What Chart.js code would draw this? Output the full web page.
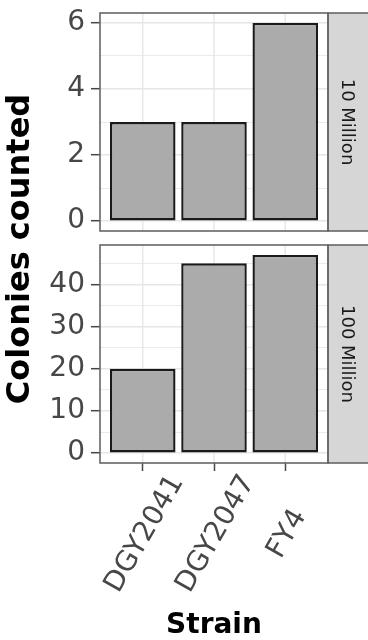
<!DOCTYPE html>
<html>
<head>
<meta charset="utf-8">
<script src="https://cdn.jsdelivr.net/npm/chart.js@4.4.1/dist/chart.umd.min.js"></script>
<style>
  html, body { margin: 0; padding: 0; background: #ffffff; }
  canvas { display: block; }
</style>
</head>
<body>
<canvas id="chart" width="368" height="640"></canvas>
<script>
// Colonies counted per strain, faceted by cell number plated
const strains = ['DGY2041', 'DGY2047', 'FY4'];
const panels = ['10 Million', '100 Million'];
const colonies10M = [3, 3, 6];
const colonies100M = [20, 45, 47];
const majorTicks10M = [0, 2, 4, 6];
const minorTicks10M = [1, 3, 5];
const majorTicks100M = [0, 10, 20, 30, 40];
const minorTicks100M = [5, 15, 25, 35, 45];
const xTitle = 'Strain';
const yTitle = 'Colonies counted';

const FONT = "'DejaVu Sans', 'Liberation Sans', sans-serif";
const TEXT_GREY = '#474747';
const GRID = '#E6E6E6';
const FRAME = '#666666';
const AXIS_W = 100;

// 5% padding above and below the data range, zero always included
function paddedRange(values) {
  const hi = Math.max(0, ...values);
  const lo = Math.min(0, ...values);
  const pad = (hi - lo) * 0.05;
  return { min: lo - pad, max: hi + pad };
}

function panelScale(values, major, minor, weight) {
  const r = paddedRange(values);
  const all = [...major, ...minor].sort((a, b) => a - b);
  return {
    type: 'linear',
    position: 'left',
    stack: 'panels',
    stackWeight: weight,
    min: r.min,
    max: r.max,
    afterBuildTicks: s => { s.ticks = all.map(v => ({ value: v })); },
    afterFit: s => { s.width = AXIS_W; s.paddingTop = 0; s.paddingBottom = 0; },
    border: { display: false },
    grid: {
      color: GRID,
      lineWidth: c => (c.tick && major.includes(c.tick.value)) ? 1.4 : 0.8,
      tickLength: 9,
      tickWidth: 1.5,
      tickColor: c => (c.tick && major.includes(c.tick.value)) ? TEXT_GREY : 'rgba(0,0,0,0)'
    },
    ticks: {
      autoSkip: false,
      padding: 6,
      color: TEXT_GREY,
      font: { family: FONT, size: 28 },
      callback: v => major.includes(v) ? String(v) : ''
    }
  };
}

const barStyle = {
  grouped: false,
  barPercentage: 0.92,
  categoryPercentage: 1,
  backgroundColor: '#ABABAB',
  borderColor: '#1A1A1A',
  borderWidth: 2.4,
  borderSkipped: false
};

// Panel frames, strips, per-panel vertical grid and the axis texts
const facetPlugin = {
  id: 'facets',
  beforeDatasetsDraw(chart) {
    const { ctx, scales } = chart;
    ctx.save();
    ctx.strokeStyle = GRID;
    ctx.lineWidth = 1.4;
    [scales.yTop, scales.yBot].forEach(ys => {
      scales.x.ticks.forEach(t => {
        const px = scales.x.getPixelForValue(t.value);
        ctx.beginPath();
        ctx.moveTo(px, ys.top);
        ctx.lineTo(px, ys.bottom);
        ctx.stroke();
      });
    });
    ctx.restore();
  },
  afterDraw(chart) {
    const { ctx, chartArea, scales } = chart;
    ctx.save();
    [scales.yTop, scales.yBot].forEach((ys, i) => {
      const h = ys.bottom - ys.top;
      // strip
      ctx.fillStyle = '#D6D6D6';
      ctx.fillRect(chartArea.right, ys.top, 50, h);
      ctx.strokeStyle = FRAME;
      ctx.lineWidth = 1.6;
      ctx.strokeRect(chartArea.right, ys.top, 50, h);
      // panel frame
      ctx.strokeRect(chartArea.left, ys.top, chartArea.right - chartArea.left, h);
      // strip label
      ctx.save();
      ctx.translate(chartArea.right + 19, ys.top + h / 2);
      ctx.rotate(Math.PI / 2);
      ctx.fillStyle = '#1A1A1A';
      ctx.font = `18px ${FONT}`;
      ctx.textAlign = 'center';
      ctx.textBaseline = 'middle';
      ctx.fillText(panels[i], 0, 0);
      ctx.restore();
    });

    // category labels, rotated
    ctx.fillStyle = TEXT_GREY;
    ctx.font = `28px ${FONT}`;
    ctx.textAlign = 'center';
    ctx.textBaseline = 'middle';
    scales.x.ticks.forEach(t => {
      const px = scales.x.getPixelForValue(t.value);
      ctx.save();
      ctx.translate(px + 2, 534);
      ctx.rotate(-60 * Math.PI / 180);
      ctx.fillText(strains[t.value], 0, 0);
      ctx.restore();
    });

    // axis titles
    ctx.fillStyle = '#000000';
    ctx.font = `bold 28px ${FONT}`;
    ctx.fillText(xTitle, (chartArea.left + chartArea.right) / 2, 626);

    ctx.save();
    ctx.translate(21, 249);
    ctx.rotate(-Math.PI / 2);
    ctx.font = `bold 32px ${FONT}`;
    ctx.fillText(yTitle, 0, 0);
    ctx.restore();
    ctx.restore();
  }
};

new Chart(document.getElementById('chart'), {
  type: 'bar',
  data: {
    datasets: [
      Object.assign({
        label: panels[0],
        yAxisID: 'yTop',
        data: strains.map((s, i) => ({ x: i, y: colonies10M[i] }))
      }, barStyle),
      Object.assign({
        label: panels[1],
        yAxisID: 'yBot',
        data: strains.map((s, i) => ({ x: i, y: colonies100M[i] }))
      }, barStyle)
    ]
  },
  options: {
    responsive: false,
    animation: false,
    events: [],
    layout: { padding: { left: 0, right: 40, top: 13, bottom: 0 } },
    plugins: { legend: { display: false }, tooltip: { enabled: false } },
    scales: {
      x: {
        type: 'linear',
        offset: false,
        min: -0.6,
        max: strains.length - 1 + 0.6,
        afterBuildTicks: s => { s.ticks = strains.map((_, i) => ({ value: i })); },
        afterFit: s => { s.height = 177; s.paddingLeft = 0; s.paddingRight = 0; },
        border: { display: false },
        grid: { offset: false, drawOnChartArea: false, tickLength: 8, tickWidth: 1.5, tickColor: TEXT_GREY },
        ticks: { display: false }
      },
      yBot: panelScale(colonies100M, majorTicks100M, minorTicks100M, 218),
      yGap: {
        type: 'linear',
        position: 'left',
        stack: 'panels',
        stackWeight: 14,
        afterFit: s => { s.width = AXIS_W; s.paddingTop = 0; s.paddingBottom = 0; },
        border: { display: false },
        grid: { display: false },
        ticks: { display: false }
      },
      yTop: panelScale(colonies10M, majorTicks10M, minorTicks10M, 218)
    }
  },
  plugins: [facetPlugin]
});
</script>
</body>
</html>
